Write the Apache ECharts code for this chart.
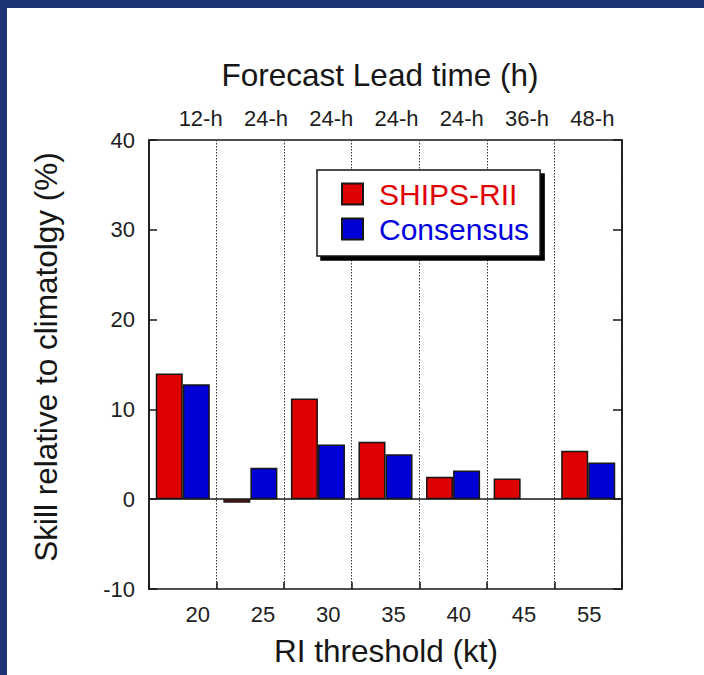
<!DOCTYPE html>
<html>
<head>
<meta charset="utf-8">
<script src="https://cdn.jsdelivr.net/npm/echarts@6/dist/echarts.min.js"></script>
<style>
  html, body { margin: 0; padding: 0; background: #1e3375; }
  #chart { width: 704px; height: 675px; }
</style>
</head>
<body>
<div id="chart"></div>
<script>
// RI thresholds (kt) along the bottom, matching forecast lead times along the top
const thresholds = ['20', '25', '30', '35', '40', '45', '55'];
const leadTimes = ['12-h', '24-h', '24-h', '24-h', '24-h', '36-h', '48-h'];

// Skill relative to climatology (%)
const shipsRII = [14.0, -0.4, 11.2, 6.4, 2.5, 2.3, 5.4];
const consensus = [12.8, 3.5, 6.1, 5.0, 3.2, null, 4.1];

const FONT = '"Liberation Sans", Arial, Helvetica, sans-serif';
const INK = '#161616';

const chart = echarts.init(document.getElementById('chart'), null, { renderer: 'svg' });

const tickLabel = { fontFamily: FONT, fontSize: 22, color: '#1e1e1e' };

function caption(x, y, text, size, rotation) {
  return {
    type: 'text', x: x, y: y, rotation: rotation || 0,
    style: { text: text, font: size + 'px ' + FONT, fill: INK,
             textAlign: 'center', textVerticalAlign: 'middle', align: 'center', verticalAlign: 'middle' }
  };
}

chart.setOption({
  backgroundColor: '#1e3375',
  animation: false,
  graphic: [
    { type: 'rect', z: -10, shape: { x: 7, y: 8, width: 697, height: 667 }, style: { fill: '#ffffff' } },
    caption(380, 75, 'Forecast Lead time (h)', 31.5),
    caption(386, 651, 'RI threshold (kt)', 31.5),
    caption(46, 357, 'Skill relative to climatolgy (%)', 31.5, Math.PI / 2)
  ],
  grid: [
    // plotting frame
    { left: 149, right: 82, top: 140, bottom: 86, show: true, borderColor: INK, borderWidth: 1.5, backgroundColor: 'transparent' },
    // bottom threshold labels
    { left: 165, width: 457, top: 140, bottom: 86 },
    // top lead-time labels
    { left: 168, width: 457, top: 140, bottom: 86 }
  ],
  legend: {
    orient: 'vertical',
    left: 317, top: 170,
    padding: [9, 11, 12, 24],
    itemWidth: 21, itemHeight: 21, itemGap: 5,
    icon: 'rect',
    backgroundColor: '#ffffff',
    borderColor: INK, borderWidth: 1.5,
    shadowColor: '#000000', shadowBlur: 0, shadowOffsetX: 4, shadowOffsetY: 4,
    textStyle: { fontFamily: FONT, fontSize: 30, padding: [0, 0, 0, 11] },
    data: [
      { name: 'SHIPS-RII', textStyle: { color: '#e00000' } },
      { name: 'Consensus', textStyle: { color: '#0000e0' } }
    ]
  },
  xAxis: [
    { // category axis carrying the bars, zero line and dotted dividers
      gridIndex: 0, type: 'category', data: thresholds, position: 'bottom',
      axisLine: { show: true, onZero: true, lineStyle: { color: INK, width: 1.5 } },
      axisTick: { show: false }, axisLabel: { show: false },
      splitLine: { show: true, lineStyle: { color: '#333', width: 1, type: [1.5, 1.5] } }
    },
    { // threshold labels
      gridIndex: 1, type: 'category', data: thresholds, position: 'bottom',
      axisLine: { show: false }, axisTick: { show: false },
      axisLabel: Object.assign({ margin: 14 }, tickLabel)
    },
    { // short inward ticks along the bottom of the frame
      gridIndex: 0, type: 'category', data: thresholds, position: 'bottom',
      axisLine: { show: false, onZero: false },
      axisTick: { show: true, inside: true, length: 7, lineStyle: { color: INK, width: 1.5 } },
      axisLabel: { show: false }
    },
    { // lead-time labels
      gridIndex: 2, type: 'category', data: leadTimes, position: 'top',
      axisLine: { show: false }, axisTick: { show: false },
      axisLabel: Object.assign({ margin: 11 }, tickLabel)
    }
  ],
  yAxis: [
    {
      gridIndex: 0, type: 'value', min: -10, max: 40, interval: 10, position: 'left',
      axisLine: { show: true, lineStyle: { color: INK, width: 1.5 } },
      axisTick: { show: true, inside: true, length: 8, lineStyle: { color: INK, width: 1.5 } },
      axisLabel: Object.assign({ margin: 14, padding: [0, 0, 8, 0] }, tickLabel),
      splitLine: { show: false }
    },
    {
      gridIndex: 0, type: 'value', min: -10, max: 40, interval: 10, position: 'right',
      axisLine: { show: true, lineStyle: { color: INK, width: 1.5 } },
      axisTick: { show: true, inside: true, length: 9, lineStyle: { color: INK, width: 1.5 } },
      axisLabel: { show: false }, splitLine: { show: false }
    },
    { gridIndex: 1, type: 'value', show: false },
    { gridIndex: 2, type: 'value', show: false }
  ],
  series: [
    {
      name: 'SHIPS-RII', type: 'bar', xAxisIndex: 0, yAxisIndex: 0,
      data: shipsRII, barGap: '0%', barCategoryGap: '20%',
      itemStyle: { color: '#dd0000', borderColor: INK, borderWidth: 1.5 }
    },
    {
      name: 'Consensus', type: 'bar', xAxisIndex: 0, yAxisIndex: 0,
      data: consensus, barGap: '0%', barCategoryGap: '20%',
      itemStyle: { color: '#0000d6', borderColor: INK, borderWidth: 1.5 }
    }
  ]
});
</script>
</body>
</html>
